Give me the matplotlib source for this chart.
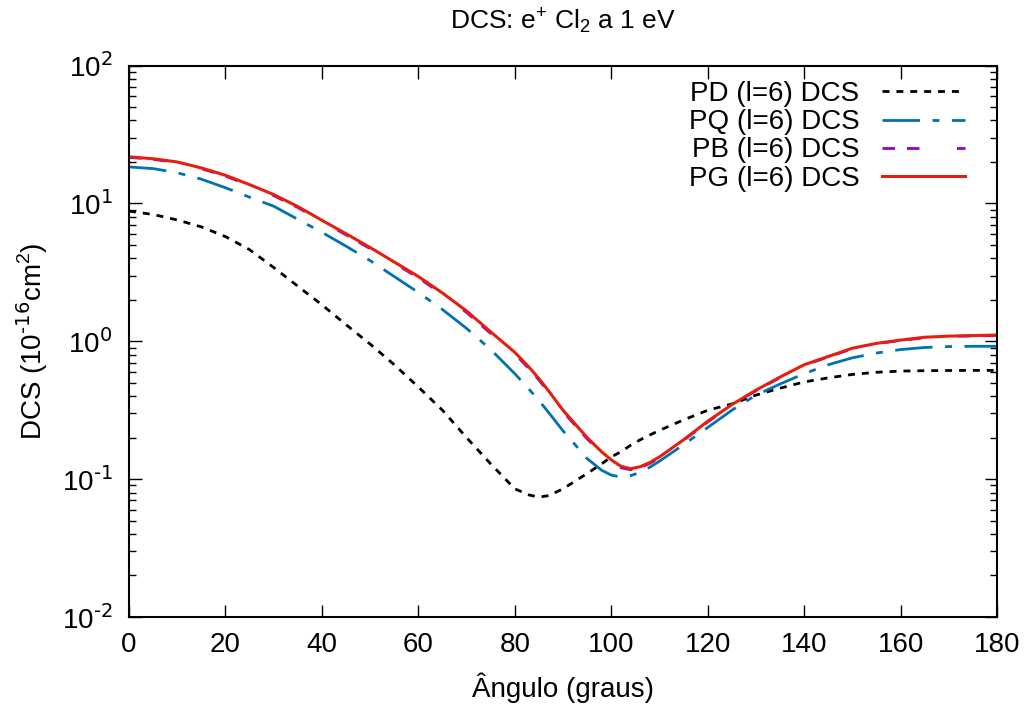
import matplotlib
matplotlib.use("Agg")
import matplotlib.pyplot as plt
from matplotlib.ticker import LogLocator, MultipleLocator, NullFormatter, FuncFormatter
import math

plt.rcParams['font.family'] = ['Liberation Sans', 'DejaVu Sans']
plt.rcParams['mathtext.default'] = 'regular'
plt.rcParams['axes.unicode_minus'] = False

# angles (degrees) shared by all curves
angle = [0, 5, 10, 15, 20, 25, 30, 35, 40, 45, 50, 55, 60, 65, 70, 75, 80,
         83, 85, 87, 90, 95, 98, 100, 102, 104, 106, 108, 110, 115, 120,
         125, 130, 135, 140, 145, 150, 155, 160, 165, 170, 175, 180]

# DCS values in 1e-16 cm^2
pd_dcs = [8.8, 8.32, 7.59, 6.76, 5.75, 4.62, 3.43, 2.51, 1.84, 1.32, 0.955,
          0.676, 0.466, 0.316, 0.200, 0.129, 0.0851, 0.0767, 0.0741, 0.0759,
          0.0851, 0.110, 0.129, 0.145, 0.158, 0.176, 0.193, 0.209, 0.226,
          0.269, 0.316, 0.351, 0.407, 0.457, 0.507, 0.543, 0.575, 0.596,
          0.608, 0.612, 0.614, 0.615, 0.615]
pq_dcs = [18.4, 17.9, 16.7, 15.0, 13.0, 11.1, 9.55, 7.67, 6.17, 4.90, 3.85,
          2.95, 2.26, 1.70, 1.24, 0.871, 0.582, 0.447, 0.372, 0.305, 0.224,
          0.141, 0.116, 0.107, 0.1035, 0.106, 0.112, 0.122, 0.135, 0.178,
          0.237, 0.316, 0.407, 0.49, 0.582, 0.676, 0.759, 0.822, 0.871,
          0.902, 0.916, 0.920, 0.920]
pb_dcs = [21.6, 20.9, 19.8, 17.9, 15.8, 13.5, 11.4, 9.35, 7.42, 5.92, 4.70,
          3.69, 2.89, 2.19, 1.62, 1.14, 0.81, 0.630, 0.524, 0.427, 0.309,
          0.196, 0.155, 0.135, 0.121, 0.117, 0.121, 0.130, 0.143, 0.191,
          0.26, 0.344, 0.438, 0.545, 0.67, 0.77, 0.884, 0.96, 1.015, 1.06,
          1.085, 1.095, 1.10]
pg_dcs = [21.8, 21.1, 20.0, 18.1, 16.0, 13.7, 11.6, 9.5, 7.55, 6.03, 4.79,
          3.76, 2.95, 2.24, 1.66, 1.17, 0.832, 0.646, 0.537, 0.437, 0.316,
          0.200, 0.158, 0.138, 0.124, 0.119, 0.123, 0.132, 0.145, 0.193,
          0.263, 0.347, 0.442, 0.550, 0.676, 0.776, 0.891, 0.966, 1.02,
          1.07, 1.09, 1.10, 1.11]

labels = ['PD (l=6) DCS', 'PQ (l=6) DCS', 'PB (l=6) DCS', 'PG (l=6) DCS']

fs = 20


def pow10(v, pos):
    # gnuplot style: plain hyphen in the exponent
    e = int(round(math.log10(v)))
    return r'10$^{\text{%d}}$' % e


fig = plt.figure(figsize=(10.33, 7.10), dpi=100)
ax = fig.add_axes([0.1249, 0.131, 0.8403, 0.7766])

ax.plot(angle, pd_dcs, color='black', lw=2.0, dashes=(2.5, 2.5), label=labels[0])
ax.plot(angle, pq_dcs, color='#0072b2', lw=2.0, dashes=(13.5, 4.5, 2.5, 4.5), label=labels[1])
ax.plot(angle, pb_dcs, color='#9400d3', lw=2.0, dashes=(4.5, 4.3, 4.5, 13.5), label=labels[2])
ax.plot(angle, pg_dcs, color='#e51e10', lw=2.2, label=labels[3])

ax.set_yscale('log')
ax.set_xlim(0, 180)
ax.set_ylim(1e-2, 1e2)
ax.xaxis.set_major_locator(MultipleLocator(20))
ax.yaxis.set_major_locator(LogLocator(base=10, numticks=10))
ax.yaxis.set_major_formatter(FuncFormatter(pow10))
ax.yaxis.set_minor_locator(LogLocator(base=10, subs=range(2, 10), numticks=10))
ax.yaxis.set_minor_formatter(NullFormatter())

ax.tick_params(which='both', direction='in', top=True, right=True, labelsize=fs, width=1.0)
ax.tick_params(which='major', length=9)
ax.tick_params(which='minor', length=5)
ax.tick_params(axis='x', pad=11)
ax.tick_params(axis='y', pad=12)
for s in ax.spines.values():
    s.set_linewidth(1.5)

ax.set_title(r'DCS: e$^{+}$ Cl$_{2}$ a 1 eV', fontsize=19, pad=26)
ax.set_xlabel('Ângulo (graus)', fontsize=fs, labelpad=10)
ax.set_ylabel(r'DCS (10$^{\text{-16}}$cm$^{2}$)', fontsize=fs, labelpad=8)

ax.legend(loc='upper right', bbox_to_anchor=(0.963, 0.972), frameon=False,
          fontsize=fs, markerfirst=False, handlelength=3.0, handletextpad=0.8,
          labelspacing=0.08, borderaxespad=0, borderpad=0)

fig.savefig('out.png', dpi=100)
